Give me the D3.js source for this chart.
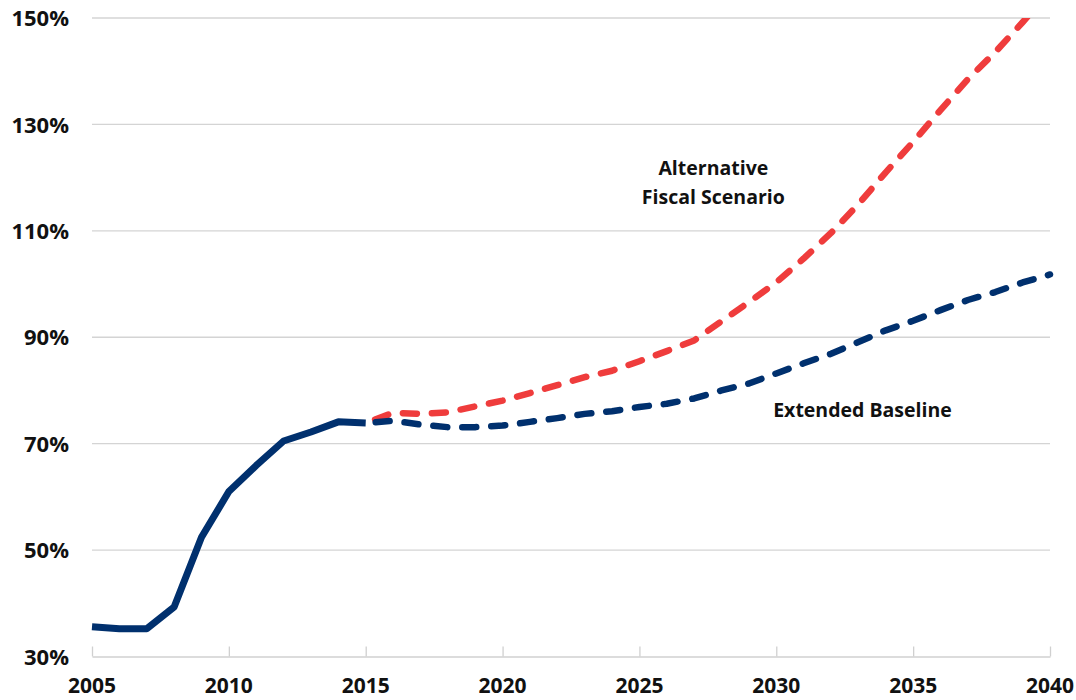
<!DOCTYPE html>
<html>
<head>
<meta charset="utf-8">
<script src="https://cdn.jsdelivr.net/npm/d3@7"></script>
<style>
  html, body { margin: 0; padding: 0; background: #fff; }
  svg { display: block; }
  text { font-family: "Open Sans", "DejaVu Sans", sans-serif; font-weight: 700; fill: #111; }
</style>
</head>
<body>
<svg id="chart" width="1076" height="700"></svg>
<script>
// ---- Data ----
const histYears = [2005, 2006, 2007, 2008, 2009, 2010, 2011, 2012, 2013, 2014, 2015];
const histValues = [35.6, 35.2, 35.2, 39.3, 52.4, 61.0, 65.9, 70.5, 72.2, 74.1, 73.9];

const projYears = [2015, 2016, 2017, 2018, 2019, 2020, 2021, 2022, 2023, 2024, 2025, 2026, 2027,
                   2028, 2029, 2030, 2031, 2032, 2033, 2034, 2035, 2036, 2037, 2038, 2039, 2040];
const baselineValues = [73.9, 74.3, 73.6, 73.1, 73.1, 73.4, 74.1, 74.8, 75.6, 76.1, 76.9, 77.5, 78.5,
                        80.0, 81.3, 83.2, 85.1, 86.9, 89.1, 91.3, 93.1, 95.1, 97.0, 98.5, 100.3, 101.8];
const altValues = [73.9, 75.8, 75.6, 75.9, 77.0, 78.1, 79.5, 81.0, 82.5, 83.7, 85.5, 87.4, 89.4,
                   93.0, 96.6, 100.3, 104.8, 109.6, 115.0, 121.0, 126.7, 132.7, 138.5, 143.6, 149.2, 155.0];

const xTicks = [2005, 2010, 2015, 2020, 2025, 2030, 2035, 2040];
const yTicks = [30, 50, 70, 90, 110, 130, 150];

const annotations = [
  { lines: ["Alternative", "Fiscal Scenario"], year: 2027.7, value: 120.5 },
  { lines: ["Extended Baseline"], year: 2033.15, value: 75.1 }
];

// ---- Layout ----
const svg = d3.select("#chart");
const x = d3.scaleLinear().domain([2005, 2040]).range([92, 1050]);
const y = d3.scaleLinear().domain([30, 150]).range([656.5, 18]);

const navy = "#00306E";
const red = "#EF3C3C";

// Gridlines
svg.append("g")
  .selectAll("line")
  .data(yTicks.filter(d => d !== 30))
  .join("line")
  .attr("x1", x(2005)).attr("x2", x(2040))
  .attr("y1", d => y(d)).attr("y2", d => y(d))
  .attr("stroke", "#D4D4D4").attr("stroke-width", 1.3);

// Y axis labels
const yAxis = d3.axisLeft(y).tickValues(yTicks).tickFormat(d => d + "%").tickSize(0).tickPadding(0);
const yg = svg.append("g").attr("transform", `translate(${x(2005) - 23},0)`).call(yAxis);
yg.select(".domain").remove();
yg.selectAll("text").attr("font-size", 22).attr("dy", "0.35em")
  .style("font-family", "'Open Sans', sans-serif").style("font-weight", 700).attr("fill", "#111");

// X axis: line with inside ticks
const xAxis = d3.axisTop(x).tickValues(xTicks).tickFormat("").tickSizeInner(10).tickSizeOuter(0);
const xg = svg.append("g").attr("transform", `translate(0,${y(30)})`).call(xAxis);
xg.select(".domain").attr("stroke", "#D0D0D0").attr("stroke-width", 1.3);
xg.selectAll(".tick line").attr("stroke", "#D0D0D0").attr("stroke-width", 1.3);

// X labels
svg.append("g")
  .selectAll("text")
  .data(xTicks)
  .join("text")
  .attr("x", d => x(d)).attr("y", 693)
  .attr("text-anchor", "middle")
  .attr("font-size", 21)
  .text(d => d);

// Clip
svg.append("clipPath").attr("id", "plotclip")
  .append("rect").attr("x", x(2005) - 10).attr("y", y(150)).attr("width", x(2040) - x(2005) + 20).attr("height", y(30) - y(150) + 10);

const line = d3.line().x(d => x(d[0])).y(d => y(d[1]));
const plot = svg.append("g").attr("clip-path", "url(#plotclip)");

plot.append("path")
  .datum(projYears.map((yr, i) => [yr, altValues[i]]))
  .attr("d", line)
  .attr("fill", "none").attr("stroke", red).attr("stroke-width", 6.5)
  .attr("stroke-linecap", "round").attr("stroke-linejoin", "round")
  .attr("stroke-dasharray", "14,15").attr("stroke-dashoffset", -10);

plot.append("path")
  .datum(projYears.map((yr, i) => [yr, baselineValues[i]]))
  .attr("d", line)
  .attr("fill", "none").attr("stroke", navy).attr("stroke-width", 6.5)
  .attr("stroke-linecap", "round").attr("stroke-linejoin", "round")
  .attr("stroke-dasharray", "14,15").attr("stroke-dashoffset", -10);

plot.append("path")
  .datum(histYears.map((yr, i) => [yr, histValues[i]]))
  .attr("d", line)
  .attr("fill", "none").attr("stroke", navy).attr("stroke-width", 7)
  .attr("stroke-linejoin", "round");

// Annotations
annotations.forEach(a => {
  const t = svg.append("text")
    .attr("x", x(a.year)).attr("y", y(a.value))
    .attr("text-anchor", "middle").attr("font-size", 19.5);
  a.lines.forEach((ln, i) => {
    t.append("tspan").attr("x", x(a.year)).attr("dy", i === 0 ? 0 : 29).text(ln);
  });
});
</script>
</body>
</html>
